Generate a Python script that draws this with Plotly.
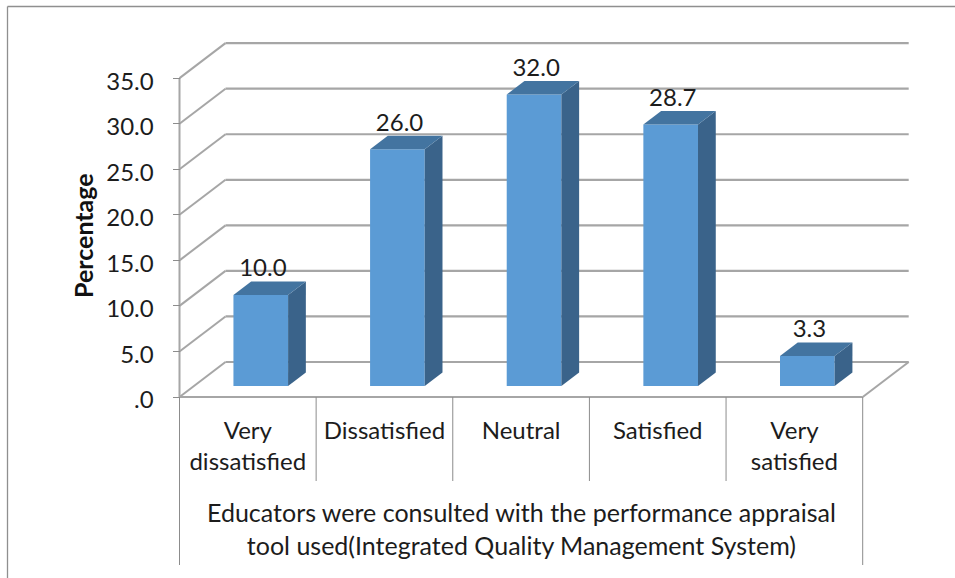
import plotly.graph_objects as go

categories = ["Very<br>dissatisfied", "Dissatisfied", "Neutral", "Satisfied", "Very<br>satisfied"]
values = [10.0, 26.0, 32.0, 28.7, 3.3]
value_labels = ["10.0", "26.0", "32.0", "28.7", "3.3"]
tick_values = [0, 5, 10, 15, 20, 25, 30, 35]
tick_labels = [".0", "5.0", "10.0", "15.0", "20.0", "25.0", "30.0", "35.0"]
y_title = "Percentage"
x_title = "Educators were consulted with the performance appraisal<br>tool used(Integrated Quality Management System)"

W, H = 955, 578
X0, Y0 = 179.5, 397.0          # pixel position of the front-left origin
CAT_PX, VAL_PX = 136.64, 9.11  # pixels per category / per value unit
xr = [(0 - X0) / CAT_PX, (W - X0) / CAT_PX]
yr = [(Y0 - H) / VAL_PX, Y0 / VAL_PX]

# oblique projection: full depth of the box, in data units
DX = 46 / CAT_PX
DY = 35 / VAL_PX
BAR_W = 0.40
D_FRONT, D_BACK = 0.314, 0.70
NUDGE = -1.5 / CAT_PX
n = len(categories)
FONT = "Lato"
TXT = "#1c1c1c"
GRID = "#a6a6a6"
AXIS = "#8c8c8c"


def proj(x, v, d):
    return x + d * DX, v + d * DY


shapes = []


def seg(x0, y0, x1, y1, color, width, xref="x", yref="y"):
    shapes.append(dict(type="line", xref=xref, yref=yref, x0=x0, y0=y0, x1=x1, y1=y1,
                       line=dict(color=color, width=width), layer="below"))


# walls and floor gridlines
for t in tick_values:
    bx, by = proj(0, t, 1)
    ex, ey = proj(n, t, 1)
    seg(0, t, bx, by, GRID, 2)
    seg(bx, by, ex, ey, GRID, 2.2)
# floor right edge, vertical axis, base axis
bx, by = proj(n, 0, 1)
seg(n, 0, bx, by, GRID, 2)
seg(0, 0, 0, tick_values[-1], GRID, 2)
seg(0, 0, n, 0, GRID, 2.2)
# category table below the axis
low1 = -(481 - Y0) / VAL_PX
low2 = -(565 - Y0) / VAL_PX
for i in range(n + 1):
    seg(i, 0, i, low2 if i in (0, n) else low1, AXIS, 1)
# outer frame (top and left only)
seg(7.5 / W, 1 - 6.5 / H, 1, 1 - 6.5 / H, "#8f8f8f", 1.3, "paper", "paper")
seg(7.5 / W, 0, 7.5 / W, 1 - 6.5 / H, "#8f8f8f", 1.3, "paper", "paper")

fig = go.Figure()

centers = [i + 0.5 + NUDGE + D_FRONT * DX for i in range(n)]
lift = D_FRONT * DY

fig.add_trace(go.Bar(x=centers, y=values, base=lift, width=BAR_W,
                     marker=dict(color="#5b9bd5", line=dict(width=0)), showlegend=False))

for i, v in enumerate(values):
    c = i + 0.5 + NUDGE
    l, r = c - BAR_W / 2, c + BAR_W / 2
    a = proj(r, 0, D_FRONT)
    b = proj(r, v, D_FRONT)
    d = proj(r, v, D_BACK)
    e = proj(r, 0, D_BACK)
    fig.add_trace(go.Scatter(x=[a[0], b[0], d[0], e[0], a[0]], y=[a[1], b[1], d[1], e[1], a[1]],
                             mode="lines", fill="toself", fillcolor="#3a638a",
                             line=dict(width=0), hoverinfo="skip", showlegend=False))
    p = proj(l, v, D_FRONT)
    q = proj(r, v, D_FRONT)
    s = proj(r, v, D_BACK)
    u = proj(l, v, D_BACK)
    fig.add_trace(go.Scatter(x=[p[0], q[0], s[0], u[0], p[0]], y=[p[1], q[1], s[1], u[1], p[1]],
                             mode="lines", fill="toself", fillcolor="#4374a0",
                             line=dict(width=0), hoverinfo="skip", showlegend=False))

lab_x = [proj(i + 0.5 + NUDGE, 0, 0.36)[0] for i in range(n)]
lab_y = [v + lift + 24.5 / VAL_PX for v in values]
fig.add_trace(go.Scatter(x=lab_x, y=lab_y, mode="text", text=value_labels,
                         textposition="middle center",
                         textfont=dict(family=FONT, size=24, color=TXT),
                         hoverinfo="skip", showlegend=False))

fig.update_layout(
    width=W, height=H, autosize=False,
    margin=dict(l=0, r=0, t=0, b=0),
    paper_bgcolor="white", plot_bgcolor="white",
    showlegend=False, shapes=shapes,
    xaxis=dict(range=xr, domain=[0, 1], anchor="free", position=1 - Y0 / H, side="bottom",
               tickmode="array", tickvals=[i + 0.5 for i in range(n)], ticktext=categories,
               ticks="outside", ticklen=12, tickcolor="rgba(0,0,0,0)", showgrid=False,
               zeroline=False, showline=False,
               tickfont=dict(family=FONT, size=24, color=TXT)),
    yaxis=dict(range=yr, domain=[0, 1], anchor="free", position=X0 / W, side="left",
               tickmode="array", tickvals=tick_values, ticktext=tick_labels,
               ticks="outside", ticklen=7, tickwidth=1, tickcolor=AXIS, showgrid=False,
               zeroline=False, showline=False, ticklabelstandoff=14, ticklabelshift=3,
               tickfont=dict(family=FONT, size=24, color=TXT)),
    annotations=[
        dict(text=y_title, xref="paper", yref="paper", x=83 / W, y=1 - 236 / H, showarrow=False,
             xanchor="center", yanchor="middle",
             textangle=-90, font=dict(family=FONT, size=25, color="#111111", weight="bold")),
        dict(text=x_title, xref="x", yref="paper", x=n / 2, y=1 - 528.5 / H, showarrow=False,
             xanchor="center", yanchor="middle",
             font=dict(family=FONT, size=25, color=TXT)),
    ],
)

fig.write_html("out.html", config={"displayModeBar": False},
               post_script="document.body.style.margin='0';")
